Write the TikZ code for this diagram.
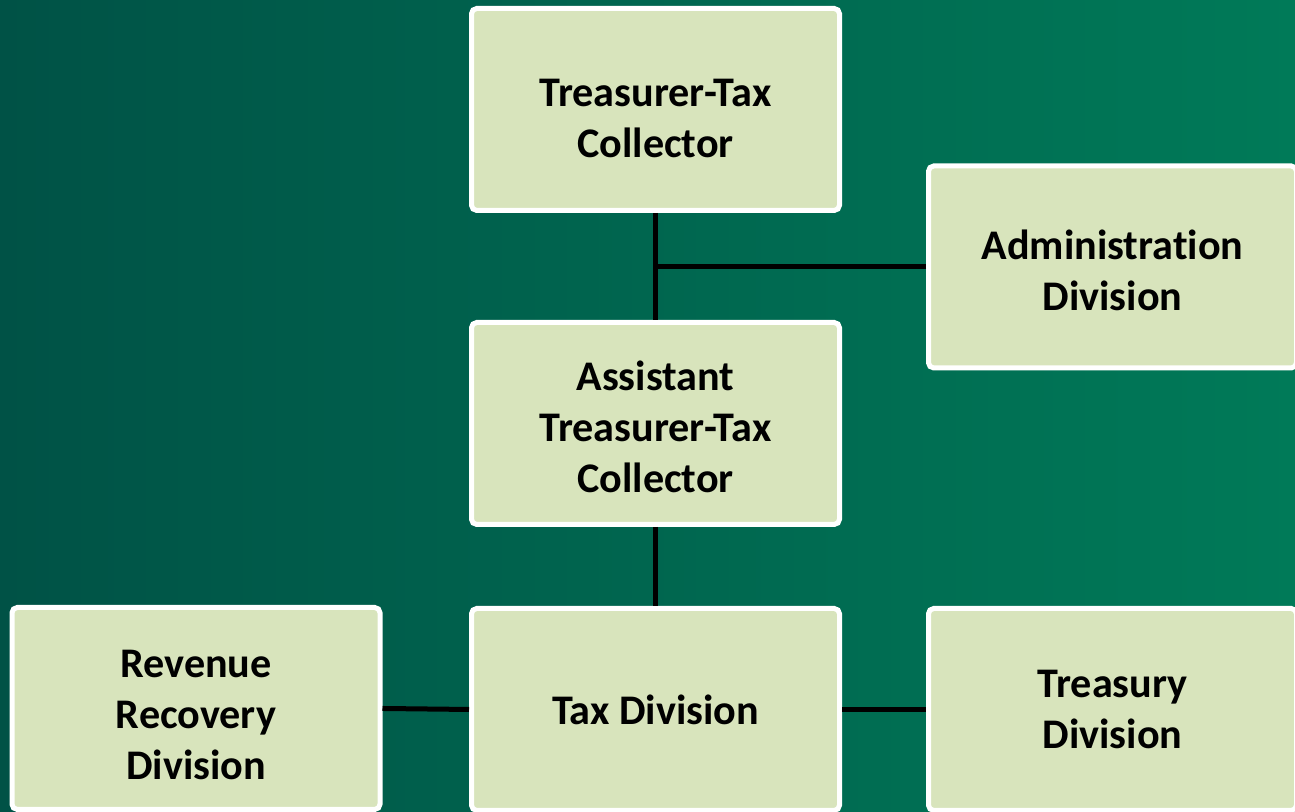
\documentclass[tikz,border=0pt]{standalone}
\usepackage{fontspec}
\setmainfont{Carlito}[Ligatures={TeX,NoCommon}]
\definecolor{boxfill}{RGB}{216,228,188}
\definecolor{bgleft}{RGB}{0,82,70}
\definecolor{bgright}{RGB}{0,122,88}
% a strut on the first line pushes the text down in its box
\newcommand{\topgap}[1]{\rule{0pt}{#1}}
\begin{document}
\begin{tikzpicture}

    \tikzset{
      unit/.style={
        draw=white,
        line width=0.05cm,
        fill={boxfill},
        rounded corners=1.5pt,
        minimum width=3.68cm,
        minimum height=2.02cm,
        align=center,
        font=\fontsize{12}{14.5}\selectfont\bfseries,
        text=black,
      },
      link/.style={
        line width=0.05cm,
        color=black,
      },
    }
    \useasboundingbox (0,0) rectangle (12.95,8.12);
    \clip (0,0) rectangle (12.95,8.12);
	\shade[left color={bgleft},right color={bgright}] (0,0) rectangle (12.95,8.12);
	\node[unit] (collector) at (6.555,7.025) {\topgap{12.85pt}Treasurer-Tax\\Collector};
	\node[unit] (admin) at (11.125,5.45) {\topgap{10.2pt}Administration\\Division};
	\node[unit] (assistant) at (6.555,3.885) {\topgap{10.3pt}Assistant\\Treasurer-Tax\\Collector};
	\node[unit] (revenue) at (1.96,1.035) {\topgap{11.4pt}Revenue\\Recovery\\Division};
	\node[unit] (tax) at (6.555,1.025) {\topgap{8.9pt}Tax Division};
	\node[unit] (treasury) at (11.125,1.025) {Treasury\\Division};
	\draw[link] (collector.south) -- (assistant.north);
	\draw[link] (admin.west) -- (admin.west -| collector.south);
	\draw[link] (assistant.south) -- (tax.north);
	\draw[link] (tax.west) -- (revenue.east);
	\draw[link] (tax.east) -- (treasury.west);

\end{tikzpicture}
\end{document}
